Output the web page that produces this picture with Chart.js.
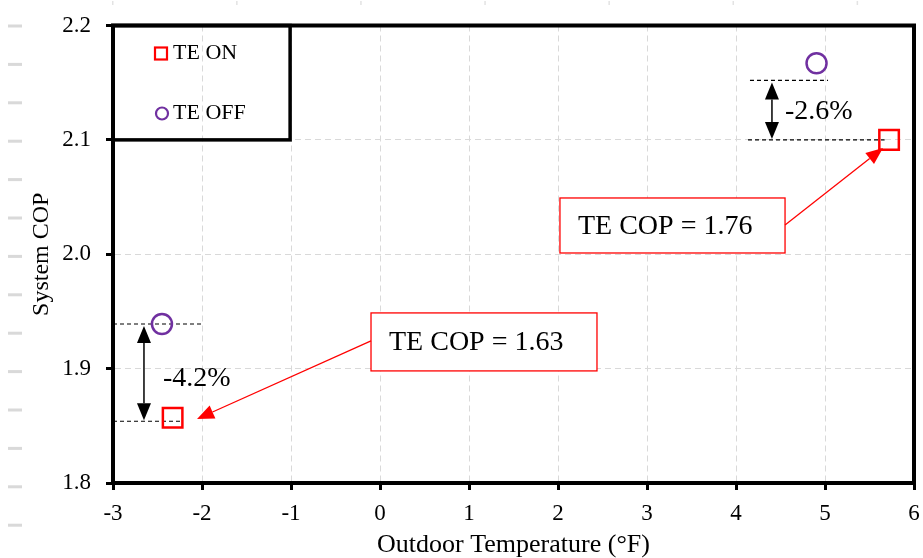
<!DOCTYPE html>
<html>
<head>
<meta charset="utf-8">
<script src="https://cdn.jsdelivr.net/npm/chart.js@4/dist/chart.umd.min.js"></script>
<style>
  html, body { margin: 0; padding: 0; background: #fff; overflow: hidden; }
  #wrap { width: 923px; height: 558px; }
  canvas { display: block; }
</style>
</head>
<body>
<div id="wrap"><canvas id="cop" width="923" height="558"></canvas></div>
<script>
// Series: system COP against outdoor temperature, with and without TE
const seriesNames = ['TE ON', 'TE OFF'];
const teOnTemp  = [-2.33, 5.72];
const teOnCop   = [1.857, 2.100];
const teOffTemp = [-2.45, 4.905];
const teOffCop  = [1.939, 2.167];

// Axis ticks
const xTicks = [-3, -2, -1, 0, 1, 2, 3, 4, 5, 6];
const yTicks = [1.8, 1.9, 2.0, 2.1, 2.2];

// Bracket levels used for the percentage change markers
const bracketTop    = [1.939, 2.152];
const bracketBottom = [1.854, 2.100];
const changeLabels  = ['-4.2%', '-2.6%'];

// TE COP callouts
const copLabels = ['TE COP = 1.63', 'TE COP = 1.76'];

const SERIF = '"Liberation Serif", "Times New Roman", serif';
Chart.defaults.font.family = SERIF;
Chart.defaults.color = '#000';

// Annotation geometry, in data units
const brackets = [
  { x: -2.652, top: [-3, -1.99], bottom: [-3, -2.22], label: [-2.438, 1.891] },
  { x: 4.404, top: [4.157, 5.034], bottom: [4.135, 5.67], label: [4.551, 2.125] }
];
const callouts = [
  { box: [-0.101, 2.438, 1.9487, 1.898], from: [-0.101, 1.9242], to: [-2.056, 1.856] },
  { box: [2.022, 4.551, 2.0492, 2.0011], from: [4.551, 2.0256], to: [5.652, 2.093] }
];

function arrowHead(ctx, x1, y1, x2, y2, len, half) {
  const a = Math.atan2(y2 - y1, x2 - x1);
  const bx = x2 - len * Math.cos(a), by = y2 - len * Math.sin(a);
  ctx.beginPath();
  ctx.moveTo(x2, y2);
  ctx.lineTo(bx + half * Math.sin(a), by - half * Math.cos(a));
  ctx.lineTo(bx - half * Math.sin(a), by + half * Math.cos(a));
  ctx.closePath();
  ctx.fill();
  return [bx, by];
}

const overlay = {
  id: 'overlay',
  beforeDatasetsDraw(chart) {
    const { ctx, chartArea: a, scales: { x, y } } = chart;
    ctx.save();

    // frame around the plot area
    ctx.strokeStyle = '#000';
    ctx.lineWidth = 4;
    ctx.strokeRect(a.left, a.top, a.right - a.left, a.bottom - a.top);

    // legend box in the upper-left corner
    const lx1 = x.getPixelForValue(-1.01), ly1 = y.getPixelForValue(2.1);
    ctx.lineWidth = 3.5;
    ctx.strokeRect(a.left, a.top, lx1 - a.left, ly1 - a.top);
    const mx = a.left + 48, tx = a.left + 60;
    const rowY = [a.top + 28, a.top + 88];
    ctx.lineWidth = 2.2;
    ctx.strokeStyle = '#ff0000';
    ctx.strokeRect(mx - 6, rowY[0] - 6, 12, 12);
    ctx.strokeStyle = '#7030a0';
    ctx.beginPath();
    ctx.arc(mx + 1, rowY[1], 6, 0, Math.PI * 2);
    ctx.stroke();
    ctx.fillStyle = '#000';
    ctx.font = '22px ' + SERIF;
    ctx.textBaseline = 'middle';
    ctx.textAlign = 'left';
    ctx.fillText(seriesNames[0], tx, rowY[0]);
    ctx.fillText(seriesNames[1], tx, rowY[1]);

    // dashed brackets and double-headed arrows
    brackets.forEach((b, i) => {
      const yt = y.getPixelForValue(bracketTop[i]);
      const yb = y.getPixelForValue(bracketBottom[i]);
      ctx.strokeStyle = '#000';
      ctx.lineWidth = 1.2;
      ctx.setLineDash([4, 3]);
      ctx.beginPath();
      ctx.moveTo(x.getPixelForValue(b.top[0]), yt);
      ctx.lineTo(x.getPixelForValue(b.top[1]), yt);
      ctx.moveTo(x.getPixelForValue(b.bottom[0]), yb);
      ctx.lineTo(x.getPixelForValue(b.bottom[1]), yb);
      ctx.stroke();
      ctx.setLineDash([]);

      const ax = x.getPixelForValue(b.x);
      ctx.fillStyle = '#000';
      const p1 = arrowHead(ctx, ax, yb, ax, yt + 2, 17, 7);
      const p2 = arrowHead(ctx, ax, yt, ax, yb - 1, 17, 7);
      ctx.lineWidth = 1.5;
      ctx.beginPath();
      ctx.moveTo(ax, p1[1]);
      ctx.lineTo(ax, p2[1]);
      ctx.stroke();

      ctx.font = '28px ' + SERIF;
      ctx.textAlign = 'left';
      ctx.textBaseline = 'middle';
      ctx.fillText(changeLabels[i], x.getPixelForValue(b.label[0]), y.getPixelForValue(b.label[1]));
    });
    ctx.restore();
  },
  afterDatasetsDraw(chart) {
    const { ctx, scales: { x, y } } = chart;
    ctx.save();
    callouts.forEach((c, i) => {
      const bx1 = x.getPixelForValue(c.box[0]), bx2 = x.getPixelForValue(c.box[1]);
      const by1 = y.getPixelForValue(c.box[2]), by2 = y.getPixelForValue(c.box[3]);
      ctx.fillStyle = '#fff';
      ctx.fillRect(bx1, by1, bx2 - bx1, by2 - by1);
      ctx.strokeStyle = '#ff0000';
      ctx.lineWidth = 1.3;
      ctx.strokeRect(bx1, by1, bx2 - bx1, by2 - by1);
      ctx.fillStyle = '#000';
      ctx.font = '28px ' + SERIF;
      ctx.textAlign = 'left';
      ctx.textBaseline = 'middle';
      ctx.fillText(copLabels[i], bx1 + 18, (by1 + by2) / 2 + 1);

      const fx = x.getPixelForValue(c.from[0]), fy = y.getPixelForValue(c.from[1]);
      const txp = x.getPixelForValue(c.to[0]), typ = y.getPixelForValue(c.to[1]);
      ctx.fillStyle = '#ff0000';
      const base = arrowHead(ctx, fx, fy, txp, typ, 17, 7);
      ctx.lineWidth = 1.3;
      ctx.beginPath();
      ctx.moveTo(fx, fy);
      ctx.lineTo(base[0], base[1]);
      ctx.stroke();
    });
    ctx.restore();
  },
  afterDraw(chart) {
    // faint guide marks along the left and top margins
    const { ctx, chartArea: a } = chart;
    ctx.save();
    ctx.fillStyle = '#d9d9d9';
    for (let k = 0; k < 14; k++) {
      ctx.fillRect(8, a.top + 0.5 + k * 38.4 - 1.5, 14, 3);
    }
    ctx.fillStyle = '#e3e3e3';
    for (let k = 0; k < 7; k++) {
      ctx.fillRect(a.left - 1 + k * 124.1, 1, 1.5, 4);
    }
    ctx.restore();
  }
};

const gridStyle = { color: '#d9d9d9', lineWidth: 1, tickColor: '#000', tickLength: 7, tickWidth: 3 };
const borderStyle = { display: true, color: '#000', width: 4, dash: [6, 4] };

new Chart(document.getElementById('cop'), {
  type: 'scatter',
  data: {
    datasets: [
      {
        label: seriesNames[0],
        data: teOnTemp.map((t, i) => ({ x: t, y: teOnCop[i] })),
        pointStyle: 'rect',
        pointRadius: 13.8,
        pointHoverRadius: 13.8,
        borderColor: '#ff0000',
        backgroundColor: 'rgba(0,0,0,0)',
        pointBorderWidth: 2.5
      },
      {
        label: seriesNames[1],
        data: teOffTemp.map((t, i) => ({ x: t, y: teOffCop[i] })),
        pointStyle: 'circle',
        pointRadius: 10,
        pointHoverRadius: 10,
        borderColor: '#7030a0',
        backgroundColor: 'rgba(0,0,0,0)',
        pointBorderWidth: 2.5
      }
    ]
  },
  options: {
    responsive: false,
    animation: false,
    devicePixelRatio: 1,
    layout: { autoPadding: false, padding: { top: 25.5, right: 9, left: 0, bottom: 0 } },
    plugins: { legend: { display: false }, tooltip: { enabled: false } },
    scales: {
      x: {
        type: 'linear',
        min: -3, max: 6,
        afterBuildTicks: s => { s.ticks = xTicks.map(v => ({ value: v })); },
        afterFit: s => { s.height = 75; s.paddingLeft = 0; s.paddingRight = 0; },
        grid: gridStyle,
        border: borderStyle,
        ticks: { font: { size: 23, lineHeight: 1.2 }, padding: 10, color: '#000' },
        title: { display: true, text: 'Outdoor Temperature (°F)', font: { size: 26, lineHeight: 1.0 }, padding: { top: 0, bottom: 0 }, color: '#000' }
      },
      y: {
        type: 'linear',
        min: 1.8, max: 2.2,
        afterBuildTicks: s => { s.ticks = yTicks.map(v => ({ value: v })); },
        afterFit: s => { s.width = 113; s.paddingTop = 0; s.paddingBottom = 0; },
        grid: gridStyle,
        border: borderStyle,
        ticks: { font: { size: 23 }, padding: 15, color: '#000', callback: v => Number(v).toFixed(1) },
        title: { display: true, text: 'System COP', font: { size: 24, lineHeight: 1.0 }, padding: { top: 29.5, bottom: 0 }, color: '#000' }
      }
    }
  },
  plugins: [overlay]
});
</script>
</body>
</html>
